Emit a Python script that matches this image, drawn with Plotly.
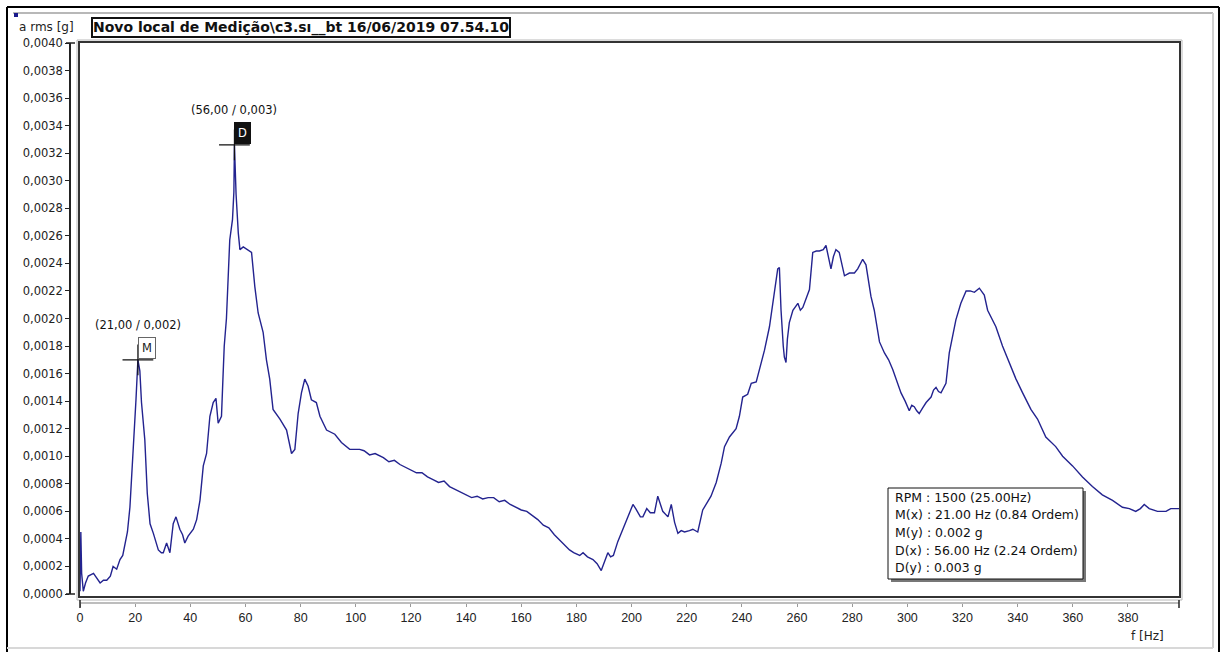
import plotly.graph_objects as go

# Spectrum: RMS acceleration [g] versus frequency [Hz]
freq_hz = [
    0, 0.3, 0.6, 1.2, 2.0, 3.0, 4.9, 6.0, 7.3, 8.5, 9.7, 11.0, 12.0, 13.3, 14.5, 15.5,
    16.3, 17.2, 18.1, 19.3, 20.3, 21.0, 21.7, 22.3, 23.5, 24.4, 25.4, 26.6, 28.4, 29.5,
    30.2, 31.4, 32.6, 33.8, 34.8, 36.2, 37.2, 38.0, 39.2, 41.1, 42.3, 43.5, 44.7, 45.9,
    47.1, 48.3, 49.3, 50.1, 51.3, 51.9, 52.3, 53.1, 53.7, 54.3, 55.3, 55.8, 56.0, 56.6,
    57.4, 58.0, 59.2, 60.5, 62.2, 63.4, 64.6, 66.4, 67.6, 68.8, 70.0, 72.5, 74.9, 76.7,
    77.9, 79.1, 80.3, 81.5, 82.7, 83.9, 85.7, 87.0, 89.4, 92.4, 94.8, 97.8, 101.4, 103,
    105, 107, 110, 112, 114, 116, 118, 120, 122, 124, 126, 128, 130, 132, 134, 136, 138,
    140, 142, 144, 146, 148, 150, 152, 154, 156, 158, 160, 162, 164, 166, 168, 170, 172,
    174, 176, 177.5, 179, 181.2, 182.4, 184, 186, 187.5, 189, 190.2, 191.4, 192.4, 193.4,
    195, 196.9, 198.7, 200.5, 201.5, 202.3, 203.2, 204.1, 205.5, 206.8, 208.3, 209.5,
    210.5, 211.3, 213.2, 214.4, 215.6, 216.8, 218, 219.2, 221, 222.2, 224, 225.8, 228.8,
    230.7, 232.5, 233.7, 235.5, 237.9, 239.1, 240.3, 242.1, 243.4, 245.2, 246.4, 248.2,
    250, 251.8, 253, 253.6, 254.2, 255.0, 255.4, 256, 256.5, 257.2, 258.5, 260.3, 261.2,
    262.1, 263.3, 264.5, 265.7, 267, 268.1, 269.5, 270.5, 271.4, 272.3, 273.2, 274.1,
    275.3, 276.2, 277.2, 279, 280.8, 282, 283.8, 285, 285.9, 286.8, 288, 289.9, 291.7,
    293.2, 294.7, 296.2, 297.7, 299.2, 300.7, 301.6, 302.5, 303.4, 304.3, 305.5, 306.8,
    308.6, 309.5, 310.4, 311.3, 312.2, 314, 315.2, 316.4, 317.6, 319.4, 321.3, 322.8,
    324.3, 326.1, 327.9, 329.1, 330.6, 332.1, 334.5, 337, 339.4, 341.8, 344.8, 347.2,
    350.2, 353.8, 356.3, 359.9, 363.5, 367.1, 370.7, 374.4, 378, 380.5, 382.8, 384.5,
    385.9, 387.7, 390.7, 393.8, 395.5, 398.6,
]
a_rms_g = [
    0.00002, 0.00045, 0.00015, 0.00002, 0.00008, 0.00013, 0.00015, 0.00012, 0.00008,
    0.00010, 0.00010, 0.00013, 0.00020, 0.00018, 0.00025, 0.00028, 0.00036, 0.00045,
    0.00063, 0.00102, 0.00141, 0.00170, 0.00162, 0.00139, 0.00112, 0.00073, 0.00051,
    0.00044, 0.00032, 0.00030, 0.00030, 0.00037, 0.00030, 0.00051, 0.00056, 0.00047,
    0.00043, 0.00037, 0.00042, 0.00047, 0.00054, 0.00068, 0.00093, 0.00102, 0.00129,
    0.00139, 0.00142, 0.00124, 0.00129, 0.00160, 0.00180, 0.00200, 0.00228, 0.00257,
    0.00272, 0.00292, 0.00326, 0.00290, 0.00262, 0.00250, 0.00252, 0.00250, 0.00248,
    0.00223, 0.00204, 0.00190, 0.00170, 0.00156, 0.00134, 0.00127, 0.00119, 0.00102,
    0.00105, 0.00131, 0.00146, 0.00156, 0.00151, 0.00141, 0.00139, 0.00129, 0.00119,
    0.00116, 0.00110, 0.00105, 0.00105, 0.00104, 0.00101, 0.00102, 0.00099, 0.00096,
    0.00097, 0.00094, 0.00092, 0.00090, 0.00088, 0.00088, 0.00085, 0.00083, 0.00081,
    0.00082, 0.00078, 0.00076, 0.00074, 0.00072, 0.00070, 0.00071, 0.00069, 0.00070,
    0.00070, 0.00067, 0.00068, 0.00065, 0.00063, 0.00061, 0.00060, 0.00057, 0.00054,
    0.00050, 0.00048, 0.00043, 0.00039, 0.00035, 0.00032, 0.00030, 0.00028, 0.00030,
    0.00027, 0.00025, 0.00022, 0.00017, 0.00024, 0.00030, 0.00027, 0.00028, 0.00038,
    0.00047, 0.00056, 0.00065, 0.00062, 0.00059, 0.00056, 0.00056, 0.00062, 0.00059,
    0.00059, 0.00071, 0.00065, 0.00060, 0.00056, 0.00065, 0.00052, 0.00044, 0.00046,
    0.00045, 0.00046, 0.00047, 0.00045, 0.00061, 0.00071, 0.00081, 0.00095, 0.00107,
    0.00114, 0.00120, 0.00129, 0.00143, 0.00145, 0.00153, 0.00154, 0.00163, 0.00177,
    0.00194, 0.00221, 0.00236, 0.00237, 0.00206, 0.00180, 0.00172, 0.00168, 0.00185,
    0.00197, 0.00206, 0.00211, 0.00206, 0.00208, 0.00214, 0.00221, 0.00248, 0.00249,
    0.00249, 0.00250, 0.00253, 0.00245, 0.00236, 0.00245, 0.00250, 0.00248, 0.00240,
    0.00231, 0.00233, 0.00233, 0.00236, 0.00243, 0.00239, 0.00228, 0.00216, 0.00206,
    0.00183, 0.00175, 0.00170, 0.00163, 0.00155, 0.00146, 0.00140, 0.00133, 0.00137,
    0.00136, 0.00133, 0.00131, 0.00135, 0.00139, 0.00143, 0.00148, 0.00150, 0.00147,
    0.00146, 0.00153, 0.00175, 0.00188, 0.00199, 0.00211, 0.00220, 0.00220, 0.00219,
    0.00222, 0.00217, 0.00206, 0.00200, 0.00194, 0.00180, 0.00168, 0.00156, 0.00146,
    0.00134, 0.00127, 0.00114, 0.00107, 0.00100, 0.00093, 0.00085, 0.00078, 0.00072,
    0.00068, 0.00063, 0.00062, 0.00060, 0.00062, 0.00065, 0.00062, 0.00060, 0.00060,
    0.00062, 0.00062,
]

# Cursor markers (M and D) and machine speed
marker_names = ["M", "D"]
marker_freq = [21.0, 56.0]
marker_amp = [0.00170, 0.00326]
rpm = 1500

x_ticks = list(range(0, 381, 20))
y_ticks = [i * 0.0002 for i in range(21)]

W, H = 1221, 652
L, R, T, B = 70, 42, 43, 49          # plot box margins in pixels
PW, PH = W - L - R, H - T - B


def px(x):
    """Absolute pixel column -> paper fraction."""
    return (x - L) / PW


def py(y):
    """Absolute pixel row -> paper fraction."""
    return (H - B - y) / PH


def fmt_pt(v, nd):
    return f"{v:.{nd}f}".replace(".", ",")


def pline(x0, y0, x1, y1, color, width):
    return dict(type="line", xref="paper", yref="paper",
                x0=px(x0), x1=px(x1), y0=py(y0), y1=py(y1),
                line=dict(color=color, width=width))


def prect(x0, y0, x1, y1, color, width, fill=None, layer="above"):
    d = dict(type="rect", xref="paper", yref="paper",
             x0=px(x0), x1=px(x1), y0=py(y0), y1=py(y1),
             line=dict(color=color, width=width), layer=layer)
    if fill:
        d["fillcolor"] = fill
    return d


fig = go.Figure()

fig.add_trace(go.Scatter(
    x=freq_hz, y=a_rms_g, mode="lines",
    line=dict(color="#23238f", width=1.4),
    hoverinfo="x+y", showlegend=False,
))

# Cursor crosses
fig.add_trace(go.Scatter(
    x=marker_freq, y=marker_amp, mode="markers",
    marker=dict(symbol="cross-thin", size=22, line=dict(color="#111111", width=1.2)),
    showlegend=False, hoverinfo="skip",
))

font_arial = "Arial, Liberation Sans, sans-serif"
font_wide = "DejaVu Sans, sans-serif"

annotations = []
for name, f, a in zip(marker_names, marker_freq, marker_amp):
    annotations.append(dict(
        x=f, y=a, xref="x", yref="y", text=f"({fmt_pt(f, 2)} / {fmt_pt(a, 3)})",
        showarrow=False, yshift=35, font=dict(family=font_wide, size=11.5, color="#111"),
    ))
    dark = name == "D"
    annotations.append(dict(
        x=f, y=a, xref="x", yref="y", text=name, showarrow=False,
        xanchor="left", xshift=0, yshift=12,
        font=dict(family=font_wide, size=11.5, color="white" if dark else "#222"),
        bgcolor="#111111" if dark else "white",
        bordercolor="#111111" if dark else "#666666", borderwidth=1, borderpad=3,
    ))

# Summary box: one text row per line so the row pitch is independent of font size
rot_hz = rpm / 60.0
info_lines = [
    f"RPM : {rpm} ({rot_hz:.2f}Hz)",
    f"M(x) : {marker_freq[0]:.2f} Hz ({marker_freq[0] / rot_hz:.2f} Ordem)",
    f"M(y) : {marker_amp[0]:.3f} g",
    f"D(x) : {marker_freq[1]:.2f} Hz ({marker_freq[1] / rot_hz:.2f} Ordem)",
    f"D(y) : {marker_amp[1]:.3f} g",
]
for i, line in enumerate(info_lines):
    annotations.append(dict(
        x=px(893), y=py(497 + i * 17.7), xref="paper", yref="paper",
        xanchor="left", yanchor="middle", text=line, showarrow=False,
        font=dict(family=font_wide, size=12.5, color="#111"),
    ))

# Header texts
annotations.append(dict(
    x=px(17), y=py(27), xref="paper", yref="paper", xanchor="left", yanchor="middle",
    text="a rms [g]", showarrow=False, font=dict(family=font_wide, size=12, color="#222"),
))
annotations.append(dict(
    x=px(91), y=py(27), xref="paper", yref="paper", xanchor="left", yanchor="middle",
    text="<b>Novo local de Medição\\c3.sı__bt 16/06/2019 07.54.10</b>", showarrow=False,
    font=dict(family=font_wide, size=14, color="#111"),
    bgcolor="white", bordercolor="#111111", borderwidth=2, borderpad=0,
))
annotations.append(dict(
    x=px(1147), y=py(636), xref="paper", yref="paper", xanchor="center", yanchor="middle",
    text="f [Hz]", showarrow=False, font=dict(family=font_wide, size=12, color="#222"),
))

shapes = [
    # outer page frame
    pline(7, 7, 1219, 7, "black", 2),
    pline(7, 7, 7, 652, "black", 2),
    pline(1219, 7, 1219, 652, "black", 2),
    # inner grey panel edges
    pline(13, 13, 1213, 13, "#b8b8b8", 2),
    pline(1213, 13, 1213, 648, "#d0d0d0", 2),
    pline(7, 648, 1213, 648, "#d8d8d8", 2),
    # small blue handle
    prect(14, 13, 18, 17, "#1a1a8c", 0, fill="#1a1a8c"),
    # plot frame (light outer, dark inner)
    prect(77, 40, 1182, 600, "#b8b8b8", 1),
    prect(79, 42, 1180, 597, "#333333", 2),
    # y-axis end caps
    pline(66, 43, 75, 43, "#222", 1.5),
    pline(66, 594, 75, 594, "#222", 1.5),
    # x-axis end ticks
    pline(80, 600, 80, 608, "#222", 1.5),
    pline(1179, 600, 1179, 608, "#222", 1.5),
    # summary box with drop shadow
    prect(891, 491, 1086, 582, "#777777", 0, fill="#777777"),
    prect(888, 488, 1083, 579, "#111111", 1, fill="white"),
]

fig.update_layout(
    width=W, height=H,
    margin=dict(l=L, r=R, t=T, b=B, pad=0),
    paper_bgcolor="white", plot_bgcolor="white",
    separators=",.",
    showlegend=False,
    xaxis=dict(
        domain=[px(80), 1], range=[0, 398.5], anchor="free", position=0,
        showline=True, linecolor="#bdbdbd", linewidth=2,
        ticks="outside", ticklen=3, tickcolor="#999999", tickwidth=1,
        tickvals=x_ticks, ticktext=[str(v) for v in x_ticks],
        tickfont=dict(family=font_arial, size=12.5, color="#222"),
        showgrid=False, zeroline=False,
    ),
    yaxis=dict(
        domain=[py(594), 1], range=[0, 0.004], anchor="free", position=0,
        showline=True, linecolor="#222222", linewidth=1.5,
        ticks="outside", ticklen=4, tickcolor="#222222", tickwidth=1,
        tickvals=y_ticks, tickformat=".4f",
        tickfont=dict(family=font_wide, size=11.5, color="#222"),
        showgrid=False, zeroline=False,
    ),
    annotations=annotations,
    shapes=shapes,
)

fig.write_html("out.html")
